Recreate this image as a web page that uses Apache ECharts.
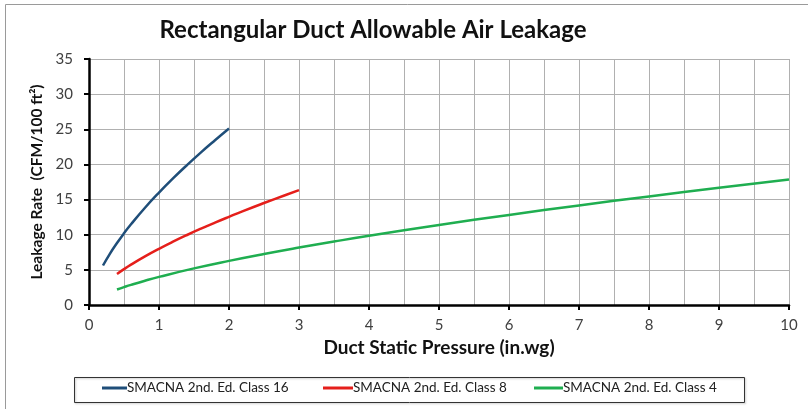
<!DOCTYPE html>
<html>
<head>
<meta charset="utf-8">
<script src="https://cdn.jsdelivr.net/npm/echarts@6/dist/echarts.min.js"></script>
<style>html,body{margin:0;padding:0;background:#fff}#c{width:808px;height:409px}</style>
</head>
<body>
<div id="c"></div>
<script>
const titleText = 'Rectangular Duct Allowable Air Leakage';
const xName = 'Duct Static Pressure (in.wg)';
const yName = 'Leakage Rate  (CFM/100 ft²)';
const seriesNames = ['SMACNA 2nd. Ed. Class 16', 'SMACNA 2nd. Ed. Class 8', 'SMACNA 2nd. Ed. Class 4'];
const seriesColors = ['#1f4e79', '#e51f1b', '#1fae50'];

const class16P = [0.2, 0.3, 0.4, 0.5, 0.6, 0.8, 1.0, 1.2, 1.4, 1.6, 1.8, 2.0];
const class16L = [5.62, 7.32, 8.82, 10.20, 11.48, 13.84, 16.00, 18.01, 19.91, 21.72, 23.44, 25.11];
const class8P = [0.4, 0.5, 0.6, 0.8, 1.0, 1.2, 1.4, 1.6, 1.8, 2.0, 2.2, 2.5, 2.8, 3.0];
const class8L = [4.41, 5.10, 5.74, 6.92, 8.00, 9.01, 9.96, 10.86, 11.72, 12.55, 13.36, 14.51, 15.62, 16.34];
const class4P = [0.4, 0.5, 0.6, 0.8, 1.0, 1.5, 2.0, 2.5, 3.0, 3.5, 4.0, 5.0, 6.0, 7.0, 8.0, 9.0, 10.0];
const class4L = [2.21, 2.55, 2.87, 3.46, 4.00, 5.21, 6.28, 7.26, 8.17, 9.03, 9.85, 11.39, 12.82, 14.17, 15.45, 16.68, 17.87];

const pairs = (xs, ys) => xs.map((x, i) => [x, ys[i]]);
const seriesData = [pairs(class16P, class16L), pairs(class8P, class8L), pairs(class4P, class4L)];

const FONT = 'Lato, Calibri, "Noto Sans", sans-serif';
const legendLefts = [102, 323, 534];
const legendWidths = [25, 30, 29];

const chart = echarts.init(document.getElementById('c'), null, {renderer: 'canvas'});
chart.setOption({
  animation: false,
  backgroundColor: '#fff',
  title: {
    text: titleText, left: 368, top: 13, textAlign: 'center',
    textStyle: {fontFamily: FONT, fontSize: 24, fontWeight: 'bold', color: '#111'}
  },
  grid: {left: 89, right: 19, top: 59, bottom: 104},
  legend: seriesNames.map((n, i) => ({
    left: legendLefts[i], top: 381, data: [n],
    icon: 'rect', itemWidth: legendWidths[i], itemHeight: 3,
    padding: 0,
    textStyle: {fontFamily: FONT, fontSize: 13.5, color: '#222', padding: [0, 0, 0, -5]}
  })),
  xAxis: {
    type: 'value', min: 0, max: 10, interval: 1,
    name: xName, nameLocation: 'middle', nameGap: 31,
    nameTextStyle: {fontFamily: FONT, fontSize: 19, fontWeight: 'bold', color: '#111'},
    axisLine: {lineStyle: {color: '#000', width: 2.5}},
    axisTick: {show: true, length: 5, lineStyle: {color: '#000', width: 2}},
    axisLabel: {fontFamily: FONT, fontSize: 15, color: '#404040', margin: 13},
    splitLine: {show: true, lineStyle: {color: '#b0b0b0', width: 1}},
    minorTick: {show: false, splitNumber: 2},
    minorSplitLine: {show: true, lineStyle: {color: '#b0b0b0', width: 1}}
  },
  yAxis: {
    type: 'value', min: 0, max: 35, interval: 5,
    name: yName, nameLocation: 'middle', nameGap: 38, nameRotate: 90,
    nameTextStyle: {fontFamily: FONT, fontSize: 15.5, fontWeight: 'bold', color: '#111'},
    axisLine: {show: true, lineStyle: {color: '#000', width: 2.5}},
    axisTick: {show: true, length: 5, lineStyle: {color: '#000', width: 2}},
    axisLabel: {fontFamily: FONT, fontSize: 15, color: '#404040', margin: 16},
    splitLine: {show: true, lineStyle: {color: '#b0b0b0', width: 1}}
  },
  graphic: [{
    type: 'rect', left: 3, top: 2, silent: true, z: -1,
    shape: {width: 820, height: 430},
    style: {fill: 'none', stroke: '#9a9a9a', lineWidth: 1}
  }, {
    type: 'rect', left: 72, top: 375, silent: true,
    shape: {width: 670, height: 25},
    style: {fill: 'none', stroke: '#333', lineWidth: 1, shadowBlur: 2, shadowColor: 'rgba(0,0,0,0.25)', shadowOffsetX: 1, shadowOffsetY: 1}
  }],
  series: seriesNames.map((n, i) => ({
    name: n, type: 'line', data: seriesData[i], smooth: true,
    symbol: 'none', color: seriesColors[i],
    lineStyle: {width: 2.5, color: seriesColors[i]}
  }))
});
</script>
</body>
</html>
